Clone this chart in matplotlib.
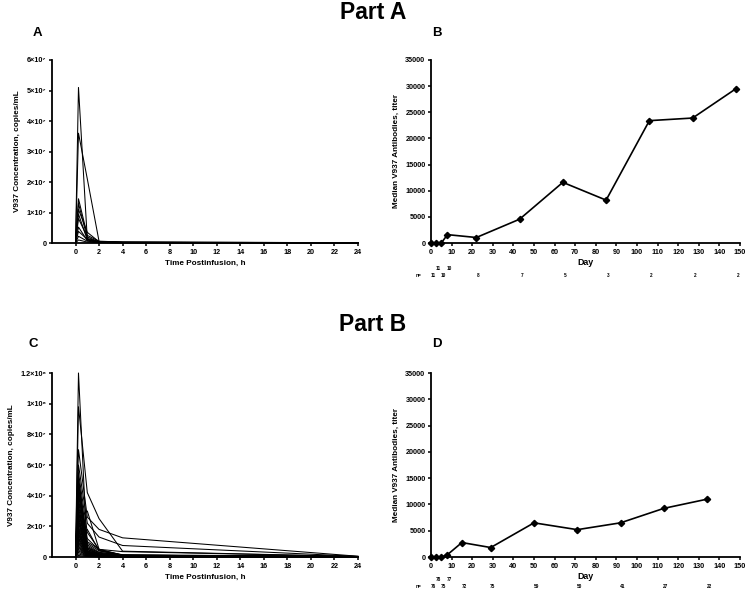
import matplotlib
matplotlib.use("Agg")
import matplotlib.pyplot as plt
import numpy as np

plt.rcParams['font.family'] = ['Liberation Sans', 'DejaVu Sans']
plt.rcParams['font.weight'] = 'bold'

# ---------------- data ----------------
pk_times = [0, 0.25, 1, 2, 4, 24]  # hours postinfusion

# Part A: individual V937 concentration profiles (x 1e6 copies/mL)
conc_a_millions = [
    [0, 51.0, 1.2, 0.4, 0.2, 0.05],
    [0, 36.0, 21.0, 0.5, 0.3, 0.1],
    [0, 14.5, 2.5, 0.6, 0.3, 0.1],
    [0, 13.0, 1.5, 0.5, 0.25, 0.08],
    [0, 11.0, 3.5, 0.4, 0.2, 0.05],
    [0, 9.5, 1.0, 0.3, 0.2, 0.05],
    [0, 8.0, 2.0, 0.3, 0.15, 0.04],
    [0, 5.2, 0.8, 0.2, 0.1, 0.03],
    [0, 3.8, 1.2, 0.2, 0.1, 0.03],
    [0, 2.2, 0.6, 0.15, 0.08, 0.02],
    [0, 1.0, 0.3, 0.1, 0.05, 0.01],
]

# Part B: individual V937 concentration profiles (x 1e6 copies/mL)
conc_c_millions = [
    [0, 120, 1.5, 0.8, 0.5, 0.2],
    [0, 98, 42, 25, 3.8, 0.3],
    [0, 70, 26, 18, 12.5, 0.5],
    [0, 60, 22, 13, 7.5, 0.4],
    [0, 55, 16, 5, 3.5, 0.3],
    [0, 52, 9, 4, 1.5, 0.3],
    [0, 50, 6, 3, 1.2, 0.2],
    [0, 48, 12, 4.5, 1.0, 0.2],
    [0, 46, 5, 2, 0.8, 0.1],
    [0, 44, 8, 3, 1.0, 0.2],
    [0, 42, 4, 1.5, 0.6, 0.1],
    [0, 40, 10, 5, 1.2, 0.2],
    [0, 38, 3, 1.2, 0.5, 0.1],
    [0, 36, 7, 2.5, 0.8, 0.1],
    [0, 34, 2.5, 1.0, 0.4, 0.1],
    [0, 32, 5, 2, 0.7, 0.1],
    [0, 30, 4, 1.5, 0.6, 0.1],
    [0, 29, 6, 2, 0.7, 0.1],
    [0, 27, 3, 1.2, 0.5, 0.1],
    [0, 26, 2, 0.8, 0.4, 0.05],
    [0, 25, 30, 5, 1.2, 0.2],
    [0, 24, 5, 1.8, 0.6, 0.1],
    [0, 23, 3.5, 1.2, 0.5, 0.1],
    [0, 22, 2.5, 1, 0.4, 0.05],
    [0, 20, 4, 1.5, 0.5, 0.1],
    [0, 19, 1.5, 0.6, 0.3, 0.05],
    [0, 18, 3, 1, 0.4, 0.05],
    [0, 17, 2, 0.8, 0.3, 0.05],
    [0, 16, 1.2, 0.5, 0.2, 0.05],
    [0, 15, 2.5, 0.9, 0.3, 0.05],
    [0, 14, 1.8, 0.7, 0.3, 0.05],
    [0, 13, 1, 0.5, 0.2, 0.05],
    [0, 12, 2, 0.8, 0.3, 0.05],
    [0, 11, 1.5, 0.6, 0.2, 0.05],
    [0, 10, 18, 4, 1.0, 0.1],
    [0, 10, 1, 0.4, 0.2, 0.05],
    [0, 9, 1.6, 0.6, 0.2, 0.05],
    [0, 8, 1.2, 0.5, 0.2, 0.05],
    [0, 7, 0.8, 0.3, 0.1, 0.02],
    [0, 6, 1, 0.4, 0.2, 0.02],
    [0, 5, 0.6, 0.3, 0.1, 0.02],
    [0, 4, 0.8, 0.3, 0.1, 0.02],
    [0, 3, 0.5, 0.2, 0.1, 0.02],
    [0, 2, 0.4, 0.2, 0.1, 0.02],
    [0, 1, 0.3, 0.1, 0.05, 0.01],
]

# Median antibody titers
days_b = [0, 2.5, 5, 8, 22, 43, 64, 85, 106, 127, 148]
titer_b = [0, 0, 0, 1600, 1050, 4550, 11600, 8200, 23400, 23900, 29500]
n_b_top_days = [2.5, 8]
n_b_top = ["11", "10"]
n_b_bot_days = [0, 5, 22, 43, 64, 85, 106, 127, 148]
n_b_bot = ["11", "10", "8", "7", "5", "3", "2", "2", "2"]

days_d = [0, 2.5, 5, 8, 15, 29, 50, 71, 92, 113, 134]
titer_d = [0, 0, 0, 450, 2750, 1800, 6500, 5200, 6500, 9250, 11000]
n_d_top_days = [2.5, 8]
n_d_top = ["78", "77"]
n_d_bot_days = [0, 5, 15, 29, 50, 71, 92, 113, 134]
n_d_bot = ["76", "75", "72", "75", "59", "50", "41", "27", "22"]

yticks_a = [0, 1e7, 2e7, 3e7, 4e7, 5e7, 6e7]
yticklabels_a = ["0", "1×10⁷", "2×10⁷", "3×10⁷", "4×10⁷", "5×10⁷", "6×10⁷"]
yticks_c = [0, 2e7, 4e7, 6e7, 8e7, 1e8, 1.2e8]
yticklabels_c = ["0", "2×10⁷", "4×10⁷", "6×10⁷", "8×10⁷", "1×10⁸", "1.2×10⁸"]

# ---------------- figure ----------------
W, H = 746, 590
fig = plt.figure(figsize=(W / 100, H / 100), dpi=100)


def rect(l, t, r, b):
    return [l / W, 1 - b / H, (r - l) / W, (b - t) / H]


TICK_FS = 5.2
LAB_FS = 5.9
N_FS = 3.4


def style(ax):
    for s in ["top", "right"]:
        ax.spines[s].set_visible(False)
    for s in ["left", "bottom"]:
        ax.spines[s].set_linewidth(1.3)
    ax.tick_params(direction="out", length=2.5, width=1.1, labelsize=TICK_FS, pad=1.5)
    for lab in ax.get_xticklabels() + ax.get_yticklabels():
        lab.set_fontweight("bold")


ax_a = fig.add_axes(rect(52, 60, 358, 243))
ax_b = fig.add_axes(rect(431, 60, 740, 243))
ax_c = fig.add_axes(rect(52, 373, 358, 557))
ax_d = fig.add_axes(rect(431, 373, 740, 557))

# PK panels
for ax, data, yt, ytl, ymax in [
    (ax_a, conc_a_millions, yticks_a, yticklabels_a, 6e7),
    (ax_c, conc_c_millions, yticks_c, yticklabels_c, 1.2e8),
]:
    for prof in data:
        ax.plot(pk_times, np.array(prof) * 1e6, color="black", lw=0.75, clip_on=False)
    ax.set_xlim(-2, 24)
    ax.set_ylim(0, ymax)
    ax.set_xticks(range(0, 25, 2))
    ax.set_yticks(yt)
    ax.set_yticklabels(ytl)
    ax.set_xlabel("Time Postinfusion, h", fontsize=LAB_FS, fontweight="bold", labelpad=3)
    ax.set_ylabel("V937 Concentration, copies/mL", fontsize=LAB_FS, fontweight="bold", labelpad=4)
    style(ax)

# Antibody panels
for ax, dd, tt, tdays, tlabs, bdays, blabs, ytop, ybot in [
    (ax_b, days_b, titer_b, n_b_top_days, n_b_top, n_b_bot_days, n_b_bot, -0.137, -0.175),
    (ax_d, days_d, titer_d, n_d_top_days, n_d_top, n_d_bot_days, n_d_bot, -0.12, -0.163),
]:
    ax.plot(dd, tt, color="black", lw=1.2, marker="D", markersize=3.2, clip_on=False, zorder=3)
    ax.set_xlim(0, 150)
    ax.set_ylim(0, 35000)
    ax.set_xticks(range(0, 151, 10))
    ax.set_yticks(range(0, 35001, 5000))
    ax.set_xlabel("Day", fontsize=LAB_FS + 0.5, fontweight="bold", labelpad=2)
    ax.set_ylabel("Median V937 Antibodies, titer", fontsize=LAB_FS, fontweight="bold", labelpad=4)
    style(ax)
    tr = ax.get_xaxis_transform()
    for d, t in zip(tdays, tlabs):
        ax.text(d + 1, ytop, t, transform=tr, fontsize=N_FS, ha="center", va="center", clip_on=False)
    for d, t in zip(bdays, blabs):
        ax.text(d + 1, ybot, t, transform=tr, fontsize=N_FS, ha="center", va="center", clip_on=False)
    ax.text(-6, ybot, "n=", transform=tr, fontsize=N_FS, ha="center", va="center", clip_on=False)

# titles and panel letters
fig.text(373 / W, 1 - 1 / H, "Part A", fontsize=16.5, fontweight="bold", ha="center", va="top")
fig.text(373 / W, 1 - 313 / H, "Part B", fontsize=16.5, fontweight="bold", ha="center", va="top")
for lx, ly, letter in [(37, 33, "A"), (437, 33, "B"), (33, 344, "C"), (437, 344, "D")]:
    fig.text(lx / W, 1 - ly / H, letter, fontsize=9.5, fontweight="bold", ha="center", va="center")

fig.savefig("out.png", dpi=100, facecolor="white")
